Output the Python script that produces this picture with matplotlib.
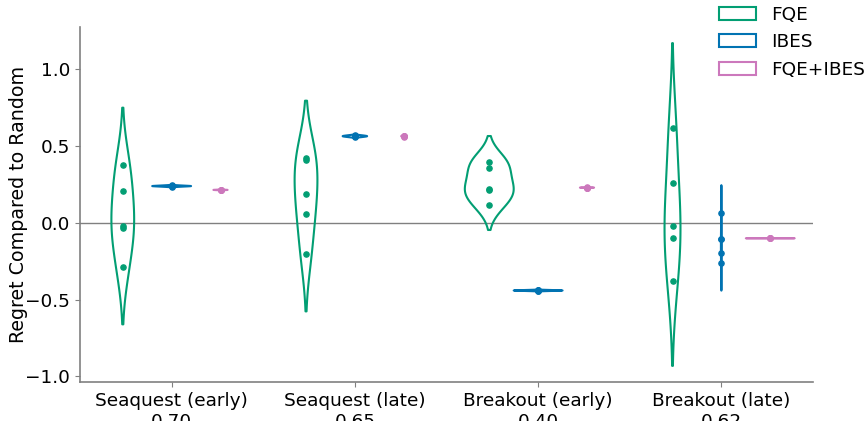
import numpy as np
import pandas as pd
import matplotlib
matplotlib.use("Agg")
import matplotlib.pyplot as plt
import seaborn as sns

# categories / labels
games = ["Seaquest (early)", "Seaquest (late)", "Breakout (early)", "Breakout (late)"]
game_scores = ["0.70", "0.65", "0.40", "0.62"]
methods = ["FQE", "IBES", "FQE+IBES"]

# regret values per game
fqe = [
    [0.38, 0.21, -0.02, -0.03, -0.29],
    [0.42, 0.41, 0.19, 0.06, -0.20],
    [0.40, 0.36, 0.223, 0.216, 0.12],
    [0.62, 0.26, -0.02, -0.10, -0.38],
]
ibes = [
    [0.236, 0.239, 0.240, 0.241, 0.244],
    [0.559, 0.563, 0.565, 0.567, 0.571],
    [-0.443, -0.441, -0.440, -0.439, -0.437],
    [0.067, -0.106, -0.106, -0.193, -0.262],
]
fqe_ibes = [
    [0.2135, 0.2145, 0.215, 0.2155, 0.2165],
    [0.561, 0.5635, 0.565, 0.5665, 0.569],
    [0.2285, 0.2295, 0.230, 0.2305, 0.2315],
    [-0.100, -0.0995, -0.100, -0.1005, -0.100],
]

colors = ["#029E73", "#0173B2", "#CC78BC"]

rows = []
for m, vals in zip(methods, [fqe, ibes, fqe_ibes]):
    for g, s, v in zip(games, game_scores, vals):
        for x in v:
            rows.append({"game": f"{g}\n{s}", "method": m, "regret": x})
df = pd.DataFrame(rows)

fig = plt.figure(figsize=(8.66, 4.21), dpi=100)
ax = fig.add_axes([0.0924, 0.0926, 0.8464, 0.8433])

ax.axhline(0, color="gray", linewidth=1, zorder=0)
sns.violinplot(data=df, x="game", y="regret", hue="method", hue_order=methods,
               palette=colors, fill=False, inner="point", linewidth=1.5,
               inner_kws={"s": 14}, ax=ax)

ax.set_xlabel("")
ax.set_ylabel("Regret Compared to Random", fontsize=13.7, labelpad=-2)
ax.tick_params(labelsize=13.3, color="gray")
sns.despine(ax=ax)
for sp in ["left", "bottom"]:
    ax.spines[sp].set_color("gray")
    ax.spines[sp].set_linewidth(1.2)

sns.move_legend(ax, "upper left", bbox_to_anchor=(0.811, 1.025),
                bbox_transform=fig.transFigure, frameon=False, title=None, fontsize=13.3)

fig.savefig("out.png", dpi=100)
